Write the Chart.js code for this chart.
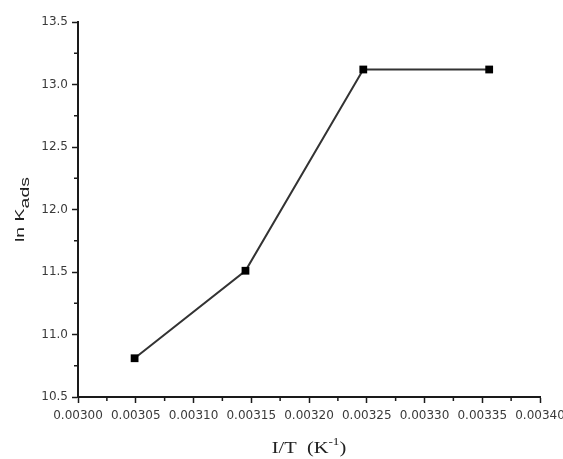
<!DOCTYPE html>
<html lang="en">
<head>
<meta charset="UTF-8">
<title>ln Kads vs 1/T</title>
<script src="https://cdn.jsdelivr.net/npm/chart.js@4/dist/chart.umd.min.js"></script>
<style>
  * { margin: 0; padding: 0; }
  body { background: #fff; width: 563px; height: 459px; overflow: hidden; }
  canvas { display: block; }
</style>
</head>
<body>
<canvas id="chart" width="563" height="459"></canvas>
<script>
// data (1/T for 328, 318, 308, 298 K)
const invT = [0.003049, 0.003145, 0.003247, 0.003356];
const lnKads = [10.81, 11.51, 13.12, 13.12];
const xTicks = [0.003, 0.00305, 0.0031, 0.00315, 0.0032, 0.00325, 0.0033, 0.00335, 0.0034];
const yTicks = [10.5, 11.0, 11.5, 12.0, 12.5, 13.0, 13.5];

const AXIS = '#1a1a1a';
const TICK_FONT = { family: 'DejaVu Sans', size: 12 };

// draw text pieces [text, font, dy] in a row, stretched along the baseline
function drawRun(ctx, parts, stretch) {
  let w = 0;
  for (const [t, f] of parts) { ctx.font = f; w += ctx.measureText(t).width; }
  ctx.scale(stretch, 1);
  let sx = -w / 2;
  for (const [t, f, dy] of parts) {
    ctx.font = f;
    ctx.fillText(t, sx, dy);
    sx += ctx.measureText(t).width;
  }
}

// minor ticks + axis titles (with sub/superscripts)
const extras = {
  id: 'extras',
  afterDraw(chart) {
    const { ctx, chartArea: a, scales: { x, y } } = chart;
    ctx.save();
    ctx.strokeStyle = AXIS;
    ctx.lineWidth = 1.5;
    ctx.beginPath();
    for (let i = 0; i < xTicks.length - 1; i++) {
      const px = x.getPixelForValue((xTicks[i] + xTicks[i + 1]) / 2);
      ctx.moveTo(px, a.bottom);
      ctx.lineTo(px, a.bottom + 4);
    }
    for (let i = 0; i < yTicks.length - 1; i++) {
      const py = y.getPixelForValue((yTicks[i] + yTicks[i + 1]) / 2);
      ctx.moveTo(a.left, py);
      ctx.lineTo(a.left - 4, py);
    }
    ctx.stroke();
    ctx.restore();

    ctx.save();
    ctx.fillStyle = '#222';
    ctx.textBaseline = 'alphabetic';
    ctx.translate((a.left + a.right) / 2, 453);
    drawRun(ctx, [
      ['I/T  (K', '17px "Liberation Serif"', 0],
      ['-1', '11px "Liberation Serif"', -8],
      [')', '17px "Liberation Serif"', 0],
    ], 1.2);
    ctx.restore();

    ctx.save();
    ctx.fillStyle = '#222';
    ctx.translate(24, (a.top + a.bottom) / 2);
    ctx.rotate(-Math.PI / 2);
    drawRun(ctx, [
      ['ln K', '13px "Liberation Sans"', 0],
      ['ads', '13px "Liberation Sans"', 5],
    ], 1.5);
    ctx.restore();
  }
};

new Chart(document.getElementById('chart'), {
  type: 'line',
  data: {
    datasets: [{
      data: invT.map((v, i) => ({ x: v, y: lnKads[i] })),
      borderColor: '#333',
      borderWidth: 2,
      pointStyle: 'rect',
      pointRadius: 5.5,
      pointBackgroundColor: '#000',
      pointBorderColor: '#000',
      pointBorderWidth: 0,
      tension: 0,
    }]
  },
  options: {
    responsive: false,
    animation: false,
    layout: { padding: { top: 22, right: 23, left: 0, bottom: 0 } },
    plugins: { legend: { display: false }, tooltip: { enabled: false } },
    scales: {
      x: {
        type: 'linear',
        min: 0.003, max: 0.0034,
        afterBuildTicks: s => { s.ticks = xTicks.map(v => ({ value: v })); },
        afterFit: s => { s.height = 62; s.paddingLeft = 0; s.paddingRight = 0; },
        ticks: { font: TICK_FONT, color: '#3a3a3a', padding: 6, maxRotation: 0, autoSkip: false,
                 callback: v => v.toFixed(5) },
        grid: { drawOnChartArea: false, drawTicks: true, tickLength: 6, tickWidth: 1.5, tickColor: AXIS },
        border: { display: true, color: AXIS, width: 2 },
      },
      y: {
        min: 10.5, max: 13.5,
        afterBuildTicks: s => { s.ticks = yTicks.map(v => ({ value: v })); },
        afterFit: s => { s.width = 78; s.paddingTop = 0; s.paddingBottom = 0; },
        ticks: { font: TICK_FONT, color: '#3a3a3a', padding: 4, callback: v => v.toFixed(1) },
        grid: { drawOnChartArea: false, drawTicks: true, tickLength: 6, tickWidth: 1.5, tickColor: AXIS },
        border: { display: true, color: AXIS, width: 2 },
      }
    }
  },
  plugins: [extras]
});
</script>
</body>
</html>
